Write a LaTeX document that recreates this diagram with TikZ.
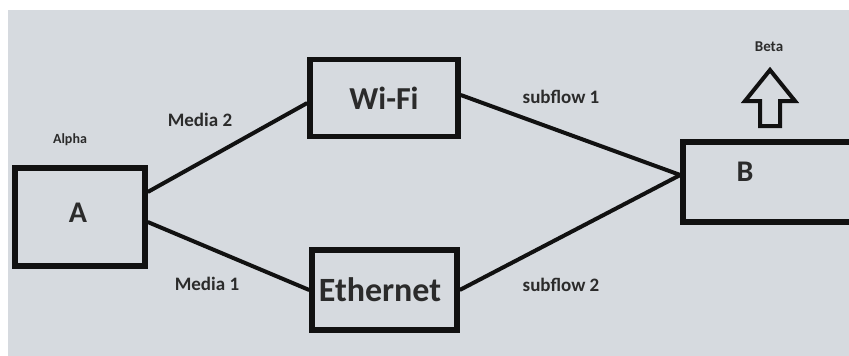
\documentclass[tikz,border=0pt]{standalone}
\usepackage{fontspec}
\setmainfont{Carlito}
\definecolor{bg}{HTML}{D6DADF}
\definecolor{ink}{HTML}{111111}
\definecolor{txt}{HTML}{2B2B2B}
\begin{document}
\begin{tikzpicture}[x=1pt,y=-1pt,
  box/.style={draw=ink,line width=5.5pt,inner sep=0pt},
  link/.style={draw=ink,line width=4pt},
  lbl/.style={text=txt,font=\bfseries,inner sep=0pt}]
\useasboundingbox (0,0) rectangle (849,356);
\clip (0,0) rectangle (849,356);
\fill[white] (0,0) rectangle (849,356);
\fill[bg] (8,10) rectangle (849,356);
% boxes
\node[box,minimum width=130pt,minimum height=98pt] (A) at (80,217) {};
\node[lbl,font=\bfseries\fontsize{30}{32}\selectfont] (Atxt) at (78,213) {A};
\node[box,minimum width=148pt,minimum height=77pt,font=\bfseries\fontsize{32}{34}\selectfont,text=txt] (W) at (384,98) {Wi-Fi};
\node[box,minimum width=145pt,minimum height=80pt] (E) at (384.5,290) {};
\node[lbl,font=\bfseries\fontsize{34}{36}\selectfont] (Etxt) at (380,290) {Ethernet};
\node[box,minimum width=220pt,minimum height=80pt] (B) at (793,182) {};
\node[lbl,font=\bfseries\fontsize{30}{32}\selectfont] (Btxt) at (745,172) {B};
% labels
\node[lbl,font=\bfseries\fontsize{14}{16}\selectfont] (alpha) at (70,140) {Alpha};
\node[lbl,font=\bfseries\fontsize{19}{21}\selectfont] (m2) at (200,120) {Media 2};
\node[lbl,font=\bfseries\fontsize{19}{21}\selectfont] (m1) at (207,284) {Media 1};
\node[lbl,font=\bfseries\fontsize{19}{21}\selectfont] (s1) at (561,97) {subflow 1};
\node[lbl,font=\bfseries\fontsize{19}{21}\selectfont] (s2) at (561,285) {subflow 2};
\node[lbl,font=\bfseries\fontsize{15}{17}\selectfont] (beta) at (769,47) {Beta};
% connectors
\draw[link] ([yshift=25pt]A.east) -- ([yshift=-5pt]W.west);
\draw[link] ([yshift=-5pt]A.east) -- (E.west);
\draw[link] ([yshift=3pt]W.east) -- ([yshift=7pt]B.west);
\draw[link] (E.east) -- ([yshift=7pt]B.west);
% outlined up arrow
\draw[ink,line width=4pt,line join=miter]
  (770,70) -- (795,101) -- (780,101) -- (780,126) -- (760,126) -- (760,101) -- (745,101) -- cycle;
\end{tikzpicture}
\end{document}
